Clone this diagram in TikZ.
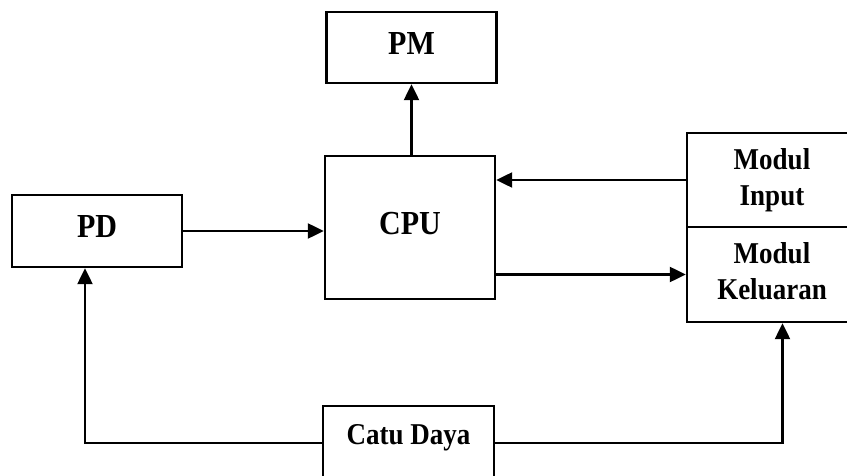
\documentclass[tikz,border=0pt]{standalone}
\usepackage{fontspec}
\usepackage{graphicx}
\setmainfont{Liberation Serif}
\usetikzlibrary{arrows.meta}
\newcommand\tallt[1]{\scalebox{1}[1.12]{#1}}
\newcommand\twolines[2]{\scalebox{1}[1.12]{\begin{tabular}{@{}c@{}}#1\\#2\end{tabular}}}
\begin{document}
\begin{tikzpicture}[x=1pt,y=-1pt,
  box/.style={draw, line width=2.4pt, inner sep=0pt, minimum width=170pt},
  big/.style={font=\fontsize{30}{34}\selectfont\bfseries, text height=13.2pt, text depth=0pt},
  small/.style={font=\fontsize{27}{32}\selectfont\bfseries},
  conn/.style={line width=2.3pt, -{Triangle[length=16pt,width=15pt]}}]
\useasboundingbox (0,0) rectangle (847,476);
\clip (0,0) rectangle (847,476);
% boxes
\node[box,big,minimum height=71pt] (PM) at (411.5,47.5) {\tallt{PM}};
\node[box,big,minimum height=143pt] (CPU) at (410,227.5) {\tallt{CPU}};
\node[box,big,minimum height=72pt] (PD) at (97,231) {\tallt{PD}};
\node[box,small,minimum height=94pt] (mi) at (772,180) {\twolines{Modul}{Input}};
\node[box,small,minimum height=95pt] (mk) at (772,274.5) {\twolines{Modul}{Keluaran}};
\node[box,small,minimum width=171pt,minimum height=74pt,text height=13.2pt,text depth=10pt] (cd) at (408.5,443) {\tallt{Catu Daya}};
% connectors
\draw[conn] (PM.south |- CPU.north) -- (PM.south);
\draw[conn] (PD.east) -- (PD.east -| CPU.west);
\draw[conn] (mi.west) -- (mi.west -| CPU.east);
\draw[conn] (mk.west -| CPU.east) -- (mk.west);
\draw[conn] (cd.west) -| ([xshift=-12pt]PD.south);
\draw[conn] (cd.east) -| ([xshift=10.5pt]mk.south);
\end{tikzpicture}
\end{document}
